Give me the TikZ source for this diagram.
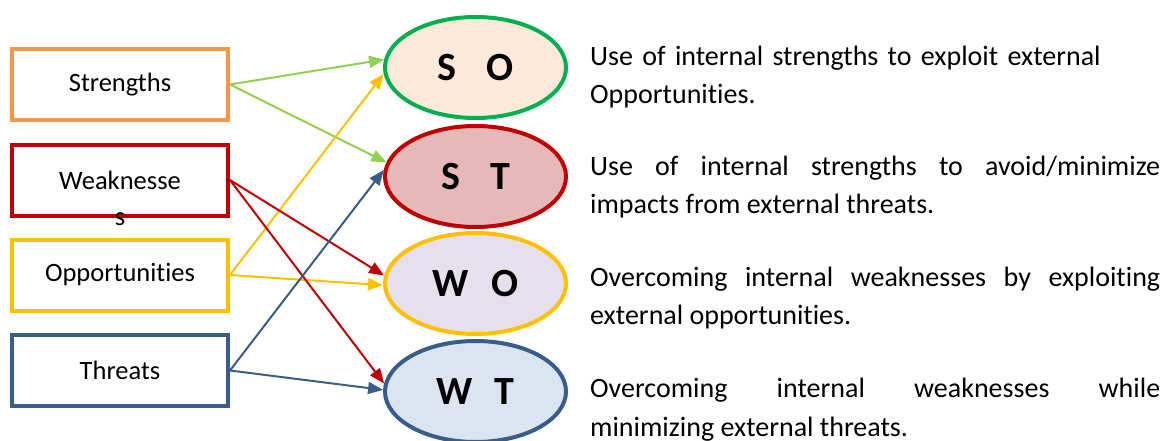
\documentclass[tikz,border=0pt]{standalone}
\usepackage{fontspec}
\setmainfont{Carlito}[Ligatures=NoCommon]
\usetikzlibrary{arrows.meta,calc,shapes.geometric}
\definecolor{orgline}{HTML}{F79646}
\definecolor{redline}{HTML}{C00000}
\definecolor{goldline}{HTML}{FFC000}
\definecolor{blueline}{HTML}{385D8A}
\definecolor{greenline}{HTML}{00B050}
\definecolor{lightgreen}{HTML}{92D050}
\definecolor{sofill}{HTML}{FDE9D9}
\definecolor{stfill}{HTML}{E6B9B8}
\definecolor{wofill}{HTML}{E5E0EC}
\definecolor{wtfill}{HTML}{DBE5F1}
\hbadness=10000

\begin{document}
\begin{tikzpicture}[x=1pt,y=-1pt,
  box/.style={draw,line width=4pt,fill=white,minimum width=216pt,minimum height=71pt,
    inner sep=0pt,font=\fontsize{26.5}{31}\selectfont},
  oval/.style={ellipse,draw,line width=4pt,minimum width=181pt,minimum height=101pt,
    inner sep=0pt,font=\fontsize{40}{44}\selectfont\bfseries},
  link/.style={line width=2pt,-{Triangle[length=15pt,width=12pt]}},
  desc/.style={anchor=west,text width=570pt,align=justify,inner sep=0pt,
    font=\fontsize{28}{38.5}\selectfont}]
\useasboundingbox (0,0) rectangle (1169,441);

\node[box,draw=orgline] (str) at (120,84.5) {Strengths};
\node[box,draw=redline,label={[anchor=center,yshift=-2pt,font=\fontsize{26.5}{31}\selectfont]south:s}] (weak) at (120,180) {Weaknesse};
\node[box,draw=goldline] (opp) at (120,275) {Opportunities};
\node[box,draw=blueline] (thr) at (120,370.5) {Threats};

\node[oval,draw=greenline,fill=sofill] (so) at (475.5,67.5) {S\hspace{0.75em}O};
\node[oval,draw=redline,fill=stfill] (st) at (475.5,176.5) {S\hspace{0.75em}T};
\node[oval,draw=goldline,fill=wofill] (wo) at (475.5,283.5) {W\hspace{0.55em}O};
\node[oval,draw=blueline,fill=wtfill] (wt) at (475.5,391.5) {W\hspace{0.55em}T};

\draw[link,lightgreen] (str.east) -- (so.175);
\draw[link,lightgreen] (str.east) -- (st.171);
\draw[link,goldline] (opp.east) -- (so.184);
\draw[link,goldline] (opp.east) -- (wo.181);
\draw[link,redline] (weak.east) -- (wo.175);
\draw[link,redline] (weak.east) -- (wt.175);
\draw[link,blueline] (thr.east) -- (st.176);
\draw[link,blueline] (thr.east) -- (wt.179);

\node[desc,align=left] (dso) at (590,77) {Use of internal strengths to exploit external\\Opportunities.};
\node[desc] (dst) at (590,187) {Use of internal strengths to avoid/minimize\linebreak impacts from external threats.};
\node[desc] (dwo) at (590,298) {Overcoming internal weaknesses by exploiting\linebreak external opportunities.};
\node[desc] (dwt) at (590,409.5) {Overcoming internal weaknesses while\linebreak minimizing external threats.};
\end{tikzpicture}
\end{document}
